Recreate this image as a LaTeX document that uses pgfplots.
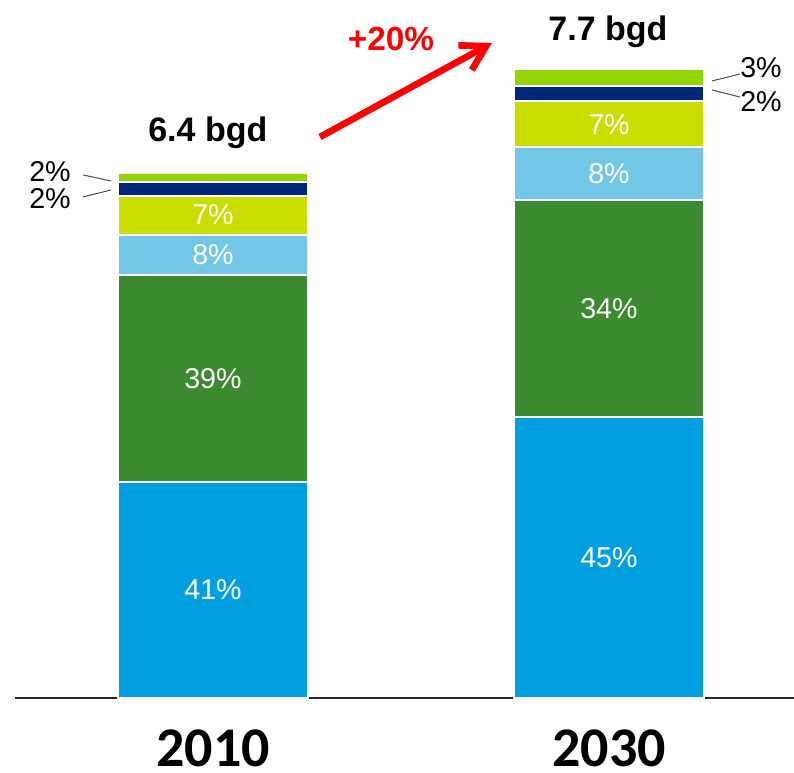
\documentclass[border=0pt]{standalone}
\usepackage{fontspec}
\setmainfont{Liberation Sans}
\newfontfamily\carlito{Carlito}
\usepackage{pgfplots}
\pgfplotsset{compat=1.18}
\usetikzlibrary{arrows.meta}
\definecolor{cblue}{HTML}{00A0E0}
\definecolor{cgreen}{HTML}{3C8A2F}
\definecolor{clblue}{HTML}{72C6E6}
\definecolor{cyg}{HTML}{C9DD00}
\definecolor{cnavy}{HTML}{00287A}
\definecolor{cbgreen}{HTML}{93D500}
\tikzset{
  seg/.style={white, font=\fontsize{21.5}{25}\selectfont},
  side/.style={black, font=\fontsize{21.5}{25}\selectfont},
  tot/.style={black, font=\bfseries\fontsize{25.5}{30}\selectfont},
  lead/.style={black!70, line width=0.75pt},
}
\begin{document}
\begin{tikzpicture}
\begin{axis}[
  at={(0,0)}, anchor=south west,
  scale only axis, width=584.25pt, height=523.5pt,
  xmin=-0.5, xmax=1.4672, ymin=0, ymax=8.509,
  ybar stacked, bar width=142.5pt,
  axis x line=bottom, axis y line=none,
  x axis line style={-, line width=1.5pt, black!85},
  xtick={0,1}, xticklabels={\mbox{\carlito\bfseries 2010},\mbox{\carlito\bfseries 2030}}, major tick length=0,
  xticklabel style={font=\fontsize{42}{48}\selectfont, anchor=center, inner sep=0pt, yshift=-38pt},
  clip=false,
]
\addplot[fill=cblue, draw=white, line width=1.5pt]   coordinates {(0,2.633) (1,3.426)};
\addplot[fill=cgreen, draw=white, line width=1.5pt]  coordinates {(0,2.523) (1,2.639)};
\addplot[fill=clblue, draw=white, line width=1.5pt]  coordinates {(0,0.494) (1,0.646)};
\addplot[fill=cyg, draw=white, line width=1.5pt]     coordinates {(0,0.475) (1,0.567)};
\addplot[fill=cnavy, draw=white, line width=1.5pt]   coordinates {(0,0.165) (1,0.183)};
\addplot[fill=cbgreen, draw=white, line width=1.5pt] coordinates {(0,0.110) (1,0.207)};

\coordinate (a1) at (axis cs:0,1.317);
\coordinate (a2) at (axis cs:0,3.895);
\coordinate (a3) at (axis cs:0,5.404);
\coordinate (a4) at (axis cs:0,5.888);
\coordinate (b1) at (axis cs:1,1.713);
\coordinate (b2) at (axis cs:1,4.745);
\coordinate (b3) at (axis cs:1,6.388);
\coordinate (b4) at (axis cs:1,6.994);

\node[side] at (axis cs:-0.4116,6.412) {2\%};
\node[side] at (axis cs:-0.4116,6.083) {2\%};
\node[side] at (axis cs:1.3838,7.680) {3\%};
\node[side] at (axis cs:1.3838,7.266) {2\%};
\draw[lead] (axis cs:-0.3283,6.376) -- (axis cs:-0.2576,6.303);
\draw[lead] (axis cs:-0.3283,6.108) -- (axis cs:-0.2576,6.193);
\draw[lead] (axis cs:1.2601,7.522) -- (axis cs:1.3308,7.607);
\draw[lead] (axis cs:1.2601,7.412) -- (axis cs:1.3308,7.326);

\node[tot] at (axis cs:-0.013,6.89) {6.4 bgd};
\node[tot] at (axis cs:0.9975,8.12) {7.7 bgd};

\draw[red, line width=5pt, -{Straight Barb[length=18pt, width=21pt]}] (axis cs:0.2702,6.839) -- (axis cs:0.7045,7.985);
\node[red, font=\bfseries\fontsize{25}{30}\selectfont] at (axis cs:0.4495,8.03) {+20\%};
\end{axis}
\node[seg] at (a1) {41\%};
\node[seg] at (a2) {39\%};
\node[seg] at (a3) {8\%};
\node[seg] at (a4) {7\%};
\node[seg] at (b1) {45\%};
\node[seg] at (b2) {34\%};
\node[seg] at (b3) {8\%};
\node[seg] at (b4) {7\%};
\pgfresetboundingbox
\path[use as bounding box] (-11.25pt,-56.25pt) rectangle (584.25pt,523.5pt);
\end{tikzpicture}
\end{document}
